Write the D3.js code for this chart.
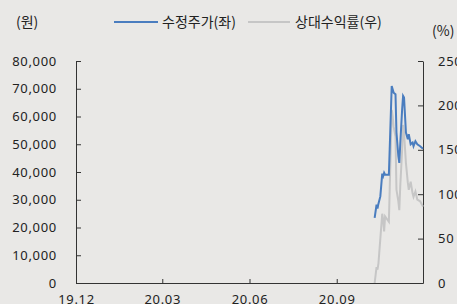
<!DOCTYPE html>
<html>
<head>
<meta charset="utf-8">
<style>
    body { margin: 0; background: #e9e8e6; }
    svg { display: block; }
    .axis .domain, .axis .tick line { stroke: #333; }
    .axis .tick text { font-size: 13px; fill: #222; font-family: "Noto Sans", "Open Sans", sans-serif; letter-spacing: 0.7px; }
    .legend { font-size: 14px; fill: #222; font-family: "Noto Sans CJK KR", sans-serif; }
</style>
</head>
<body>
<svg width="457" height="304"></svg>
<script src="https://d3js.org/d3.v7.min.js"></script>
<script>
// daily points, 2020-10 ~ 2020-12
let dates = ["2020-10-11", "2020-10-13", "2020-10-14", "2020-10-15", "2020-10-17",
    "2020-10-19", "2020-10-20", "2020-10-21", "2020-10-22", "2020-10-26",
    "2020-10-29", "2020-10-30", "2020-10-31", "2020-11-02", "2020-11-03",
    "2020-11-05", "2020-11-06", "2020-11-07", "2020-11-09", "2020-11-10",
    "2020-11-11", "2020-11-13", "2020-11-15", "2020-11-16", "2020-11-18",
    "2020-11-20", "2020-11-21", "2020-11-23", "2020-11-25", "2020-11-28", "2020-12-01"]

// 수정주가 (원)
let price = [23500, 28200, 26800, 28600, 31200,
    39400, 38500, 39700, 39000, 39000,
    71000, 69800, 68600, 68000, 54300,
    45700, 43300, 50000, 62600, 67400,
    66800, 54200, 51800, 53600, 50000,
    50600, 49300, 51100, 50000, 49300, 48400]

// 상대수익률 (%)
let relReturn = [0, 18, 15, 22, 50,
    78, 71, 58, 75, 69,
    195, 188, 176, 165, 105,
    92, 82, 109, 150, 178,
    169, 135, 113, 105, 114,
    101, 97, 103, 94, 92, 86]

let leftTicks = [0, 10000, 20000, 30000, 40000, 50000, 60000, 70000, 80000]
let rightTicks = [0, 50, 100, 150, 200, 250]
let xTicks = ["2019-12-01", "2020-03-01", "2020-06-01", "2020-09-01"]

let parse = d3.timeParse("%Y-%m-%d")
let svg = d3.select("svg")

let margin = { top: 61, right: 34, bottom: 21, left: 76 }
let width = 457, height = 304

let x = d3.scaleTime()
    .domain([parse("2019-12-01"), parse("2020-12-01")])
    .range([margin.left, width - margin.right])

let yL = d3.scaleLinear()
    .domain([0, 80000])
    .range([height - margin.bottom, margin.top])

let yR = d3.scaleLinear()
    .domain([0, 250])
    .range([height - margin.bottom, margin.top])

let data = dates.map(function (d, i) {
    return { date: parse(d), price: price[i], rel: relReturn[i] }
})

// axes
svg.append("g")
    .attr("class", "axis")
    .attr("transform", `translate(${margin.left},0)`)
    .call(d3.axisLeft(yL).tickValues(leftTicks).tickSize(-5).tickSizeOuter(0)
        .tickPadding(19).tickFormat(d3.format(",")))

svg.append("g")
    .attr("class", "axis")
    .attr("transform", `translate(${width - margin.right},0)`)
    .call(d3.axisRight(yR).tickValues(rightTicks).tickSize(-5).tickSizeOuter(0)
        .tickPadding(15))

svg.append("g")
    .attr("class", "axis")
    .attr("transform", `translate(0,${height - margin.bottom})`)
    .call(d3.axisBottom(x).tickValues(xTicks.map(parse)).tickSize(-4).tickSizeOuter(0)
        .tickPadding(12).tickFormat(d3.timeFormat("%y.%m")))

// lines
let relLine = d3.line()
    .x(d => x(d.date))
    .y(d => yR(d.rel))

let priceLine = d3.line()
    .x(d => x(d.date))
    .y(d => yL(d.price))

svg.append("path")
    .datum(data)
    .attr("d", relLine)
    .style("fill", "none")
    .style("stroke", "#c6c6c6")
    .style("stroke-width", "2px")

svg.append("path")
    .datum(data)
    .attr("d", priceLine)
    .style("fill", "none")
    .style("stroke", "#4a7dbf")
    .style("stroke-width", "2px")

// units + legend
svg.append("text").attr("class", "legend").attr("x", 16).attr("y", 27).text("(원)")
svg.append("text").attr("class", "legend").attr("x", 432).attr("y", 36).text("(%)")

svg.append("line")
    .attr("x1", 114).attr("x2", 158).attr("y1", 22).attr("y2", 22)
    .style("stroke", "#4a7dbf").style("stroke-width", "2px")
svg.append("text").attr("class", "legend").attr("x", 162).attr("y", 27).text("수정주가(좌)")

svg.append("line")
    .attr("x1", 248).attr("x2", 290).attr("y1", 22).attr("y2", 22)
    .style("stroke", "#c6c6c6").style("stroke-width", "2px")
svg.append("text").attr("class", "legend").attr("x", 295).attr("y", 27).text("상대수익률(우)")
</script>
</body>
</html>
